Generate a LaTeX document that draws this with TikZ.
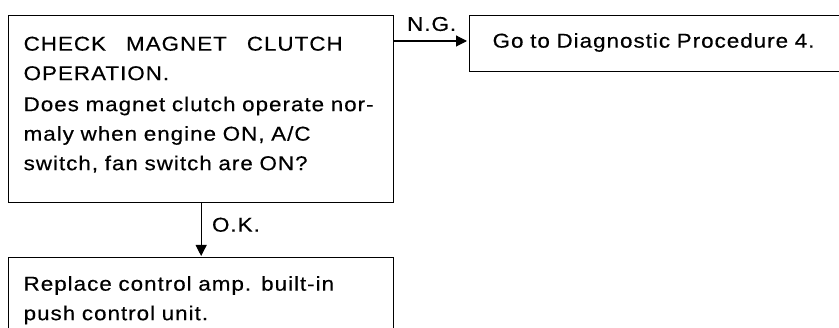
\documentclass[tikz,border=0pt]{standalone}
\usepackage{fontspec}
\setmainfont{Liberation Sans}[LetterSpace=5, FakeStretch=1.12, FakeBold=0.4]
\usetikzlibrary{arrows.meta}

\begin{document}
\begin{tikzpicture}[x=1pt, y=-1pt,
    box/.style={draw, line width=1.3pt, anchor=north west, inner ysep=0pt,
        inner xsep=15pt, align=left, text width=358pt,
        font=\fontsize{20}{29.5}\selectfont},
    flow/.style={line width=1.1pt, -{Triangle[length=11pt, width=11pt]}},
    tag/.style={font=\fontsize{20}{23}\selectfont}]
    \useasboundingbox (0,0) rectangle (839,328);

    % question box
    \node[box, text height=35pt, text depth=152pt, text width=355pt] (check) at (8,15)
        {CHECK\hspace{20pt}MAGNET\hspace{20pt}CLUTCH\\
         OPERATION.\\[1.5pt]
         Does magnet clutch operate nor-\\
         maly when engine ON, A/C\\
         switch, fan switch are ON?};

    % N.G. branch
    \node[box, text height=32pt, text depth=24pt, inner xsep=23pt,
        text width=335pt] (proc) at (469,15) {Go to Diagnostic Procedure 4.};

    % O.K. branch
    \node[box, text height=33pt, text depth=60pt, text width=355pt] (amp) at (8,257)
        {Replace control amp. built-in\\
         push control unit.};

    \draw[flow, shorten >=2pt] ([yshift=-26pt]check.north east)
        -- node[tag, above=6pt] (ng) {N.G.} ([yshift=-26pt]proc.north west);
    \draw[flow, shorten >=1pt] (check.south) -- node[tag, right=7pt, pos=0.4] (ok) {O.K.} (amp.north);
\end{tikzpicture}
\end{document}
